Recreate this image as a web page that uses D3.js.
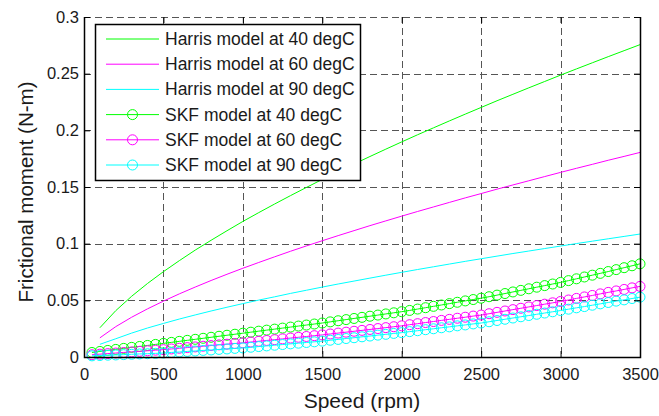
<!DOCTYPE html>
<html>
<head>
<meta charset="utf-8">
<script src="https://cdn.jsdelivr.net/npm/d3@7"></script>
<style>
  body { margin: 0; background: #fff; }
  text { font-family: "Liberation Sans", Arial, Helvetica, sans-serif; fill: #1a1a1a; }
</style>
</head>
<body>
<svg id="chart"></svg>
<script>
// Harris model, one point every 100 rpm
const harrisSpeed = [100, 200, 300, 400, 500, 600, 700, 800, 900, 1000,
  1100, 1200, 1300, 1400, 1500, 1600, 1700, 1800, 1900, 2000,
  2100, 2200, 2300, 2400, 2500, 2600, 2700, 2800, 2900, 3000,
  3100, 3200, 3300, 3400, 3500]
const harris40 = [0.0258, 0.0409, 0.0536, 0.0649, 0.0753, 0.0850, 0.0943, 0.1030, 0.1114, 0.1196,
  0.1274, 0.1350, 0.1424, 0.1496, 0.1567, 0.1635, 0.1703, 0.1769, 0.1834, 0.1898,
  0.1961, 0.2022, 0.2083, 0.2143, 0.2202, 0.2261, 0.2318, 0.2375, 0.2431, 0.2487,
  0.2542, 0.2596, 0.2650, 0.2703, 0.2756]
const harris60 = [0.0169, 0.0268, 0.0351, 0.0425, 0.0493, 0.0557, 0.0617, 0.0675, 0.0730, 0.0783,
  0.0834, 0.0884, 0.0933, 0.0980, 0.1026, 0.1071, 0.1115, 0.1159, 0.1201, 0.1243,
  0.1284, 0.1324, 0.1364, 0.1404, 0.1442, 0.1481, 0.1518, 0.1555, 0.1592, 0.1629,
  0.1665, 0.1700, 0.1736, 0.1770, 0.1805]
const harris90 = [0.0112, 0.0161, 0.0211, 0.0256, 0.0296, 0.0335, 0.0371, 0.0406, 0.0439, 0.0471,
  0.0502, 0.0531, 0.0561, 0.0589, 0.0617, 0.0644, 0.0670, 0.0696, 0.0722, 0.0747,
  0.0772, 0.0796, 0.0820, 0.0844, 0.0867, 0.0890, 0.0913, 0.0935, 0.0957, 0.0979,
  0.1001, 0.1022, 0.1043, 0.1064, 0.1085]

// SKF model, one point every 50 rpm
const skfSpeed = [50, 100, 150, 200, 250, 300, 350, 400, 450, 500,
  550, 600, 650, 700, 750, 800, 850, 900, 950, 1000,
  1050, 1100, 1150, 1200, 1250, 1300, 1350, 1400, 1450, 1500,
  1550, 1600, 1650, 1700, 1750, 1800, 1850, 1900, 1950, 2000,
  2050, 2100, 2150, 2200, 2250, 2300, 2350, 2400, 2450, 2500,
  2550, 2600, 2650, 2700, 2750, 2800, 2850, 2900, 2950, 3000,
  3050, 3100, 3150, 3200, 3250, 3300, 3350, 3400, 3450, 3500]
const skf40 = [0.0040, 0.0049, 0.0058, 0.0067, 0.0076, 0.0085, 0.0093, 0.0102, 0.0111, 0.0120,
  0.0129, 0.0138, 0.0147, 0.0156, 0.0165, 0.0174, 0.0183, 0.0192, 0.0201, 0.0210,
  0.0219, 0.0228, 0.0237, 0.0246, 0.0255, 0.0264, 0.0273, 0.0282, 0.0291, 0.0300,
  0.0310, 0.0320, 0.0330, 0.0340, 0.0350, 0.0360, 0.0370, 0.0380, 0.0390, 0.0400,
  0.0411, 0.0423, 0.0435, 0.0447, 0.0459, 0.0471, 0.0483, 0.0495, 0.0507, 0.0519,
  0.0532, 0.0546, 0.0560, 0.0574, 0.0588, 0.0602, 0.0616, 0.0630, 0.0644, 0.0658,
  0.0674, 0.0690, 0.0706, 0.0722, 0.0738, 0.0754, 0.0771, 0.0788, 0.0805, 0.0822]
const skf60 = [0.0020, 0.0025, 0.0030, 0.0035, 0.0040, 0.0045, 0.0050, 0.0055, 0.0060, 0.0065,
  0.0071, 0.0077, 0.0083, 0.0089, 0.0095, 0.0101, 0.0107, 0.0113, 0.0119, 0.0125,
  0.0132, 0.0139, 0.0146, 0.0153, 0.0160, 0.0167, 0.0174, 0.0181, 0.0188, 0.0195,
  0.0203, 0.0211, 0.0219, 0.0227, 0.0235, 0.0243, 0.0251, 0.0259, 0.0267, 0.0275,
  0.0285, 0.0294, 0.0304, 0.0313, 0.0323, 0.0332, 0.0342, 0.0351, 0.0361, 0.0370,
  0.0382, 0.0394, 0.0406, 0.0418, 0.0430, 0.0442, 0.0454, 0.0466, 0.0478, 0.0490,
  0.0503, 0.0517, 0.0530, 0.0543, 0.0557, 0.0570, 0.0583, 0.0596, 0.0610, 0.0623]
const skf90 = [0.0010, 0.0013, 0.0016, 0.0018, 0.0021, 0.0024, 0.0027, 0.0029, 0.0032, 0.0035,
  0.0040, 0.0044, 0.0049, 0.0053, 0.0058, 0.0062, 0.0067, 0.0071, 0.0076, 0.0080,
  0.0086, 0.0092, 0.0098, 0.0104, 0.0110, 0.0116, 0.0122, 0.0128, 0.0134, 0.0140,
  0.0148, 0.0155, 0.0163, 0.0170, 0.0178, 0.0185, 0.0193, 0.0200, 0.0208, 0.0215,
  0.0224, 0.0232, 0.0241, 0.0249, 0.0258, 0.0266, 0.0275, 0.0283, 0.0292, 0.0300,
  0.0311, 0.0322, 0.0333, 0.0344, 0.0355, 0.0366, 0.0377, 0.0388, 0.0399, 0.0410,
  0.0422, 0.0434, 0.0445, 0.0457, 0.0469, 0.0481, 0.0493, 0.0504, 0.0516, 0.0528]

const xTicks = [0, 500, 1000, 1500, 2000, 2500, 3000, 3500]
const xTickLabels = ['0', '500', '1000', '1500', '2000', '2500', '3000', '3500']
const yTicks = [0, 0.05, 0.1, 0.15, 0.2, 0.25, 0.3]
const yTickLabels = ['0', '0.05', '0.1', '0.15', '0.2', '0.25', '0.3']

const series = [
  { name: 'Harris model at 40 degC', x: harrisSpeed, y: harris40, color: '#00ff00', marker: false },
  { name: 'Harris model at 60 degC', x: harrisSpeed, y: harris60, color: '#ff00ff', marker: false },
  { name: 'Harris model at 90 degC', x: harrisSpeed, y: harris90, color: '#00ffff', marker: false },
  { name: 'SKF model at 40 degC', x: skfSpeed, y: skf40, color: '#00ff00', marker: true },
  { name: 'SKF model at 60 degC', x: skfSpeed, y: skf60, color: '#ff00ff', marker: true },
  { name: 'SKF model at 90 degC', x: skfSpeed, y: skf90, color: '#00ffff', marker: true }
]

let width = 659
let height = 416
let plotL = 84, plotR = 640, plotT = 17, plotB = 357
let tickFont = 16.5

let svg = d3.select('#chart')
  .attr('width', width)
  .attr('height', height)

svg.append('rect').attr('width', width).attr('height', height).attr('fill', '#fff')

let x = d3.scaleLinear().domain([0, 3500]).range([plotL, plotR])
let y = d3.scaleLinear().domain([0, 0.3]).range([plotB, plotT])

// grid
let grid = svg.append('g').attr('stroke', '#555').attr('stroke-width', 1).attr('stroke-dasharray', '7,4')
grid.selectAll('.gx').data(xTicks.slice(1, -1)).enter().append('line')
  .attr('x1', d => Math.round(x(d)) + 0.5).attr('x2', d => Math.round(x(d)) + 0.5)
  .attr('y1', plotT).attr('y2', plotB)
grid.selectAll('.gy').data(yTicks.slice(1)).enter().append('line')
  .attr('y1', d => Math.round(y(d)) + 0.5).attr('y2', d => Math.round(y(d)) + 0.5)
  .attr('x1', plotL).attr('x2', plotR)

// data
let plot = svg.append('g')
series.forEach(s => {
  let pts = s.x.map((v, i) => [v, s.y[i]])
  plot.append('path')
    .datum(pts)
    .attr('fill', 'none')
    .attr('stroke', s.color)
    .attr('stroke-width', 1)
    .attr('d', d3.line().x(d => x(d[0])).y(d => y(d[1])))
  if (s.marker) {
    plot.selectAll(null).data(pts).enter().append('circle')
      .attr('cx', d => x(d[0]))
      .attr('cy', d => y(d[1]))
      .attr('r', 5)
      .attr('fill', 'none')
      .attr('stroke', s.color)
      .attr('stroke-width', 1)
  }
})

// axes with inward ticks on all four sides
let xAxisB = d3.axisBottom(x).tickValues(xTicks).tickSizeInner(-6).tickSizeOuter(0).tickPadding(11)
  .tickFormat((d, i) => xTickLabels[i])
let xAxisT = d3.axisTop(x).tickValues(xTicks).tickSizeInner(-6).tickSizeOuter(0).tickFormat('')
let yAxisL = d3.axisLeft(y).tickValues(yTicks).tickSizeInner(-6).tickSizeOuter(0).tickPadding(5)
  .tickFormat((d, i) => yTickLabels[i])
let yAxisR = d3.axisRight(y).tickValues(yTicks).tickSizeInner(-6).tickSizeOuter(0).tickFormat('')

function styleAxis(g) {
  g.select('.domain').remove()
  g.selectAll('.tick line').attr('stroke', '#000')
  g.selectAll('.tick text').attr('font-size', tickFont).attr('fill', '#1a1a1a')
    .style('font-family', '"Liberation Sans", Arial, sans-serif')
}

svg.append('g').attr('transform', `translate(0,${plotB})`).call(xAxisB).call(styleAxis)
svg.append('g').attr('transform', `translate(0,${plotT})`).call(xAxisT).call(styleAxis)
svg.append('g').attr('transform', `translate(${plotL},0)`).call(yAxisL).call(styleAxis)
svg.append('g').attr('transform', `translate(${plotR},0)`).call(yAxisR).call(styleAxis)

// box: left, bottom, right solid (top edge shows only the dashed grid)
svg.append('path')
  .attr('d', `M${plotL + 0.5},${plotT}V${plotB + 0.5}H${plotR + 0.5}V${plotT}`)
  .attr('fill', 'none')
  .attr('stroke', '#000')
  .attr('stroke-width', 1.5)

// axis labels
svg.append('text')
  .attr('x', (plotL + plotR) / 2)
  .attr('y', 408)
  .attr('text-anchor', 'middle')
  .attr('font-size', 21)
  .text('Speed (rpm)')

svg.append('text')
  .attr('transform', `translate(33,${(plotT + plotB) / 2 + 5}) rotate(-90)`)
  .attr('text-anchor', 'middle')
  .attr('font-size', 20.5)
  .text('Frictional moment (N-m)')

// legend
let legend = svg.append('g')
legend.append('rect')
  .attr('x', 95.5).attr('y', 24.5)
  .attr('width', 265).attr('height', 156)
  .attr('fill', '#fff')
  .attr('stroke', '#000')
  .attr('stroke-width', 1.5)

series.forEach((s, i) => {
  let cy = 39 + i * 25.2
  legend.append('line')
    .attr('x1', 106).attr('x2', 159)
    .attr('y1', cy).attr('y2', cy)
    .attr('stroke', s.color)
    .attr('stroke-width', 1)
  if (s.marker) {
    legend.append('circle')
      .attr('cx', 132.5).attr('cy', cy).attr('r', 5)
      .attr('fill', 'none').attr('stroke', s.color)
  }
  legend.append('text')
    .attr('x', 165)
    .attr('y', cy + 6)
    .attr('font-size', 17.5)
    .text(s.name)
})
</script>
</body>
</html>
